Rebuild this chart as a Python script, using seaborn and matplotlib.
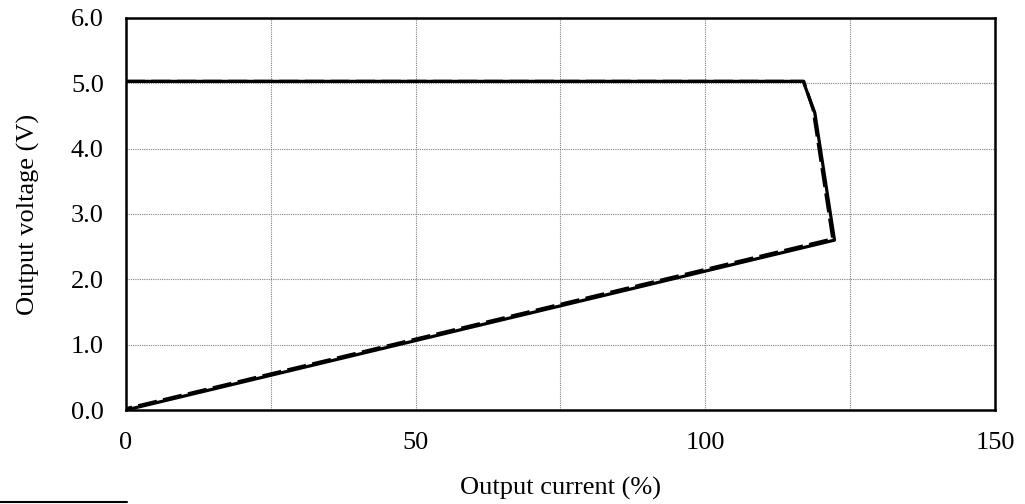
import matplotlib
matplotlib.use("Agg")
import matplotlib.pyplot as plt
import seaborn as sns
import pandas as pd
from matplotlib.lines import Line2D

# Data (output current %, output voltage V)
solid_current = [0, 116.9, 118.9, 122.3, 0]
solid_voltage = [5.03, 5.03, 4.55, 2.60, 0.0]
dashed_current = [0, 117.0, 118.6, 122.0, 0]
dashed_voltage = [5.03, 5.03, 4.60, 2.62, 0.02]

x_ticks = [0, 50, 100, 150]
y_ticks = [0.0, 1.0, 2.0, 3.0, 4.0, 5.0, 6.0]
x_label = "Output current (%)"
y_label = "Output voltage (V)"

sns.set_theme(style="white")
plt.rcParams["font.family"] = ["Liberation Serif", "DejaVu Serif"]

fig = plt.figure(figsize=(10.25, 5.04), dpi=100)
ax = fig.add_axes([0.1229, 0.1865, 0.8478, 0.7778])

df_s = pd.DataFrame({"x": solid_current, "y": solid_voltage})
df_d = pd.DataFrame({"x": dashed_current, "y": dashed_voltage})

sns.lineplot(data=df_d, x="x", y="y", sort=False, ax=ax, color="black",
             linewidth=2.3, linestyle=(0, (6, 2)), estimator=None)
sns.lineplot(data=df_s, x="x", y="y", sort=False, ax=ax, color="black",
             linewidth=2.3, estimator=None)

ax.set_xlim(0, 150)
ax.set_ylim(0, 6)
ax.set_xticks(x_ticks)
ax.set_yticks(y_ticks)
ax.set_xticks([25, 75, 125], minor=True)
ax.set_yticklabels([f"{v:.1f}" for v in y_ticks])
ax.grid(True, which="both", color="#808080", linestyle=(0, (1, 1)), linewidth=0.8)
ax.set_axisbelow(True)
ax.tick_params(axis="both", which="both", length=0, labelsize=19, colors="black", pad=16)
ax.set_xlabel(x_label, fontsize=19, color="black", labelpad=16)
ax.set_ylabel(y_label, fontsize=19, color="black", labelpad=22)
for sp in ax.spines.values():
    sp.set_color("black")
    sp.set_linewidth(1.8)
    sp.set_visible(True)

fig.add_artist(Line2D([0, 0.124], [0.003, 0.003], transform=fig.transFigure,
                      color="black", linewidth=1.5))

fig.savefig("out.png", dpi=100)
